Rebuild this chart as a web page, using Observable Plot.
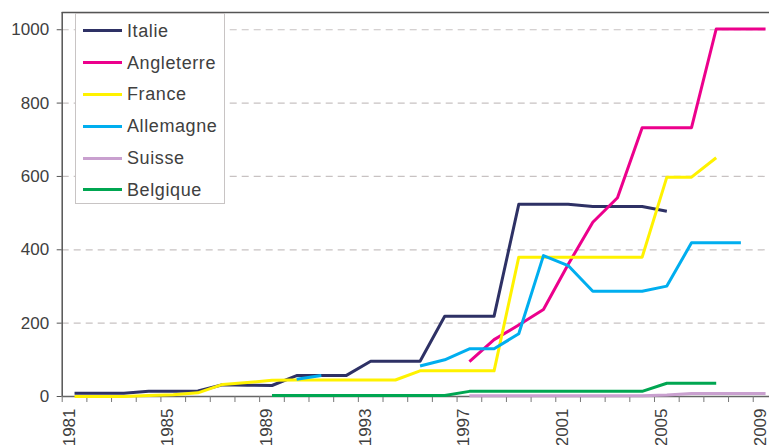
<!DOCTYPE html>
<html>
<head>
<meta charset="utf-8">
<script src="https://cdn.jsdelivr.net/npm/d3@7"></script>
<script src="https://cdn.jsdelivr.net/npm/@observablehq/plot@0.6"></script>
<style>
  html, body { margin: 0; padding: 0; background: #fff; }
  #wrap { position: relative; width: 769px; height: 445px; font-family: "Liberation Sans", Arial, sans-serif; }
  #legend { position: absolute; left: 75px; top: 13px; width: 150px; height: 191px; background: #fff;
            border: 1.5px solid #c8c4c4; box-sizing: border-box; padding-top: 1px; }
  .row { height: 31.8px; display: flex; align-items: center; }
  .sw { width: 39px; height: 3px; margin-left: 7px; margin-right: 5px; }
  .lab { font-size: 18px; color: #404040; letter-spacing: 0.6px; line-height: 1; }
</style>
</head>
<body>
<div id="wrap"></div>
<script>
const years = [1981,1982,1983,1984,1985,1986,1987,1988,1989,1990,1991,1992,1993,1994,1995,1996,1997,1998,1999,2000,2001,2002,2003,2004,2005,2006,2007,2008,2009];
const seriesNames = ["Italie","Angleterre","France","Allemagne","Suisse","Belgique"];
const seriesColors = ["#2e3165","#ec008c","#fff200","#00aeef","#c9a0cf","#00a651"];
const italie     = [9,9,9,14,14,15,32,31,30,57,57,57,96,96,96,219,219,219,524,524,524,518,518,518,505,null,null,null,null];
const angleterre = [null,null,null,null,null,null,null,null,null,null,null,null,null,null,null,null,95,155,195,237,360,475,542,733,733,733,1002,1002,1002];
const france     = [0,0,0,3,5,10,33,38,44,45,45,45,45,45,70,70,70,70,380,380,380,380,380,380,598,598,651,null,null];
const allemagne  = [null,null,null,null,null,null,null,null,null,47,57,null,null,null,83,100,130,130,171,384,357,287,287,287,301,419,419,419,null];
const suisse     = [null,null,null,null,null,null,null,null,null,null,null,null,null,null,null,null,2,2,2,2,2,2,2,2,4,8,8,8,8];
const belgique   = [null,null,null,null,null,null,null,null,3,3,3,3,3,3,3,3,14,14,14,14,14,14,14,14,36,36,36,null,null];
const yTicks = [0,200,400,600,800,1000];
const xLabels = [1981,1985,1989,1993,1997,2001,2005,2009];

const allSeries = [italie, angleterre, france, allemagne, suisse, belgique];
const rows = [];
allSeries.forEach((vals, si) => {
  vals.forEach((v, i) => rows.push({series: seriesNames[si], year: years[i], value: v == null ? NaN : v}));
});
const boundaries = years.map(y => y - 0.5).concat([years[years.length-1] + 0.5]);
const yTop = 1047;

const font = '"Liberation Sans", Arial, sans-serif';
const chart = Plot.plot({
  width: 769,
  height: 445,
  marginLeft: 61.7,
  marginRight: 0,
  marginTop: 12,
  marginBottom: 49,
  style: {fontFamily: font, fontSize: "17px", color: "#404040", background: "#fff"},
  x: {domain: [boundaries[0], boundaries[boundaries.length-1]], range: [61.7, 777.4], axis: null},
  y: {domain: [0, yTop], axis: null},
  color: {domain: seriesNames, range: seriesColors},
  marks: [
    Plot.ruleY(yTicks.filter(d => d > 0), {stroke: "#c8c2c2", strokeWidth: 1.2, strokeDasharray: "7,5"}),
    Plot.ruleY([yTop], {stroke: "#555", strokeWidth: 1.3}),
    Plot.ruleX([boundaries[0]], {stroke: "#555", strokeWidth: 1.5}),
    Plot.ruleY([0], {stroke: "#666", strokeWidth: 1.3}),
    Plot.axisY({ticks: yTicks, tickSize: 5, tickPadding: 8, stroke: "#555", tickFormat: d3.format("d"), fontSize: 17, fill: "#404040", label: null}),
    Plot.axisX({ticks: boundaries, tickSize: 6, tickFormat: () => "", stroke: "#777", label: null}),
    Plot.text(xLabels, {x: d => d, frameAnchor: "bottom", dy: 12, rotate: -90, textAnchor: "end", text: d => String(d), fontSize: 17, fill: "#404040"}),
    Plot.line(rows, {x: "year", y: "value", z: "series", stroke: "series", strokeWidth: 3, strokeLinejoin: "round", strokeLinecap: "butt"})
  ]
});
const wrap = document.getElementById("wrap");
wrap.appendChild(chart);

const legend = document.createElement("div");
legend.id = "legend";
seriesNames.forEach((name, i) => {
  const r = document.createElement("div");
  r.className = "row";
  const sw = document.createElement("div");
  sw.className = "sw";
  sw.style.background = seriesColors[i];
  const lab = document.createElement("span");
  lab.className = "lab";
  lab.textContent = name;
  r.appendChild(sw); r.appendChild(lab);
  legend.appendChild(r);
});
wrap.appendChild(legend);
</script>
</body>
</html>
